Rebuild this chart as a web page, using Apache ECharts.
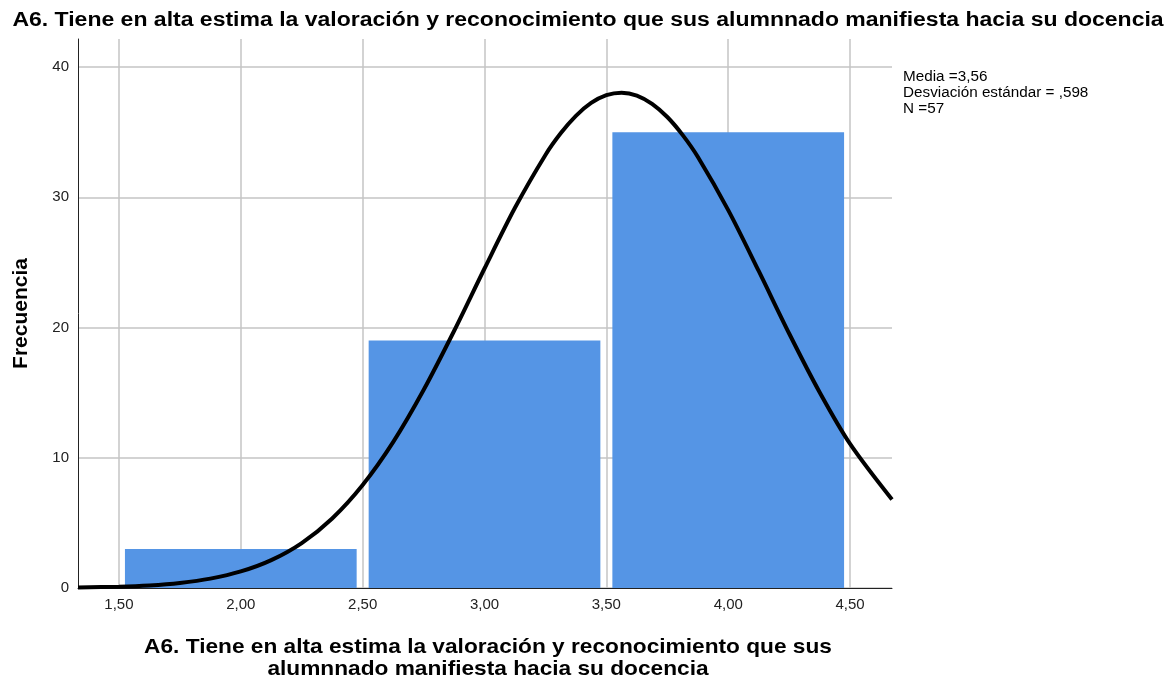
<!DOCTYPE html>
<html>
<head>
<meta charset="utf-8">
<script src="https://cdn.jsdelivr.net/npm/echarts@6/dist/echarts.min.js"></script>
<style>
  html, body { margin: 0; padding: 0; background: #fff; }
  #chart { width: 1176px; height: 684px; }
</style>
</head>
<body>
<div id="chart"></div>
<script>
// histogram bins (start, end) and counts
const binStart = [1.5, 2.5, 3.5]
const binEnd = [2.5, 3.5, 4.5]
const counts = [3, 19, 35]

// normal curve
const curveX = [1.332, 1.5, 1.625, 1.75, 1.875, 2.0, 2.125, 2.25, 2.375, 2.5, 2.625, 2.75, 2.875, 3.0,
  3.125, 3.25, 3.3125, 3.375, 3.4375, 3.5, 3.5625, 3.625, 3.6875, 3.75, 3.8125, 3.875,
  4.0, 4.125, 4.25, 4.375, 4.5, 4.672]
const curveY = [0.04, 0.10, 0.20, 0.39, 0.72, 1.27, 2.14, 3.45, 5.34, 7.91, 11.20, 15.20, 19.73, 24.53,
  29.19, 33.25, 34.91, 36.25, 37.24, 37.84, 38.03, 37.81, 37.17, 36.16, 34.79, 33.11,
  29.01, 24.34, 19.54, 15.03, 11.06, 6.79]

const xTicks = [1.5, 2.0, 2.5, 3.0, 3.5, 4.0, 4.5]
const yTicks = [0, 10, 20, 30, 40]

const stats = { media: '3,56', sd: ',598', n: '57' }

const titleText = 'A6. Tiene en alta estima la valoración y reconocimiento que sus alumnnado manifiesta hacia su docencia'
const xName = 'A6. Tiene en alta estima la valoración y reconocimiento que sus\nalumnnado manifiesta hacia su docencia'

const font = 'Liberation Sans, Arial, Helvetica, sans-serif'
const barColor = '#5595e5'
const gridColor = '#c4c4c4'

const chart = echarts.init(document.getElementById('chart'))
chart.setOption({
  animation: false,
  textStyle: { fontFamily: font },
  grid: { left: 78, right: 284, top: 39, bottom: 96 },
  xAxis: {
    type: 'value', min: 1.332, max: 4.672,
    axisLine: { show: true, onZero: false, lineStyle: { color: '#222', width: 1 } },
    axisTick: { show: false, customValues: xTicks },
    axisLabel: { customValues: xTicks, color: '#222', fontSize: 15, margin: 9,
      formatter: v => v.toFixed(2).replace('.', ',') },
    splitLine: { show: true, lineStyle: { color: gridColor, width: 1.5 } },
  },
  yAxis: {
    type: 'value', min: 0, max: 42.15,
    name: 'Frecuencia', nameLocation: 'middle', nameGap: 46,
    nameTextStyle: { fontFamily: font, fontSize: 21, fontWeight: 'bold', color: '#000' },
    axisLine: { show: true, lineStyle: { color: '#222', width: 1 } },
    axisTick: { show: false, customValues: yTicks },
    axisLabel: { customValues: yTicks, color: '#222', fontSize: 15, margin: 9 },
    splitLine: { show: true, lineStyle: { color: gridColor, width: 1.5 } },
  },
  series: [
    {
      type: 'custom',
      data: counts.map((c, i) => [binStart[i], binEnd[i], c]),
      encode: { x: [0, 1], y: 2 },
      z: 2,
      renderItem: (params, api) => {
        const p0 = api.coord([api.value(0), api.value(2)])
        const p1 = api.coord([api.value(1), 0])
        return {
          type: 'rect',
          shape: { x: p0[0] + 6, y: p0[1], width: p1[0] - p0[0] - 12, height: p1[1] - p0[1] },
          style: { fill: barColor },
        }
      },
    },
    {
      type: 'line',
      data: curveX.map((x, i) => [x, curveY[i]]),
      smooth: 0.3,
      showSymbol: false,
      z: 5,
      lineStyle: { color: '#000', width: 4 },
    },
  ],
  graphic: [
    // título (texto algo ensanchado como en la imagen original)
    {
      type: 'text', x: 588, y: 20, scaleX: 1.15,
      style: { text: titleText, font: `bold 20px ${font}`, fill: '#000', align: 'center', verticalAlign: 'middle' },
    },
    // nombre del eje x
    {
      type: 'text', x: 488, y: 658, scaleX: 1.08,
      style: { text: xName, font: `bold 21px ${font}`, fill: '#000', align: 'center', verticalAlign: 'middle', lineHeight: 22 },
    },
    // estadísticos
    {
      type: 'text', x: 903, y: 69, scaleX: 1.09,
      style: {
        text: `Media =${stats.media}\nDesviación estándar = ${stats.sd}\nN =${stats.n}`,
        font: `14px ${font}`, fill: '#000', lineHeight: 16, align: 'left', verticalAlign: 'top',
      },
    },
  ],
})
</script>
</body>
</html>
